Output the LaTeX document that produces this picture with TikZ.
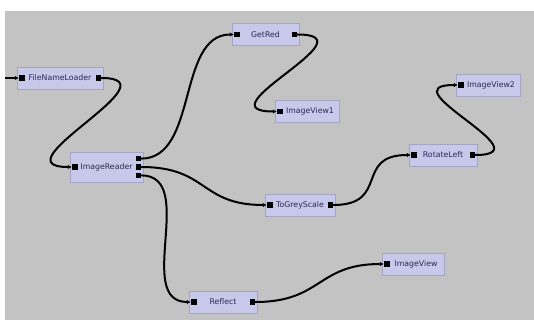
\documentclass[tikz,border=0pt]{standalone}
\usepackage{fontspec}
\setsansfont{DejaVu Sans}
\usepackage{tikz}
\usetikzlibrary{positioning,arrows.meta}
\definecolor{canvasgrey}{HTML}{C3C3C3}
\definecolor{boxfill}{HTML}{C8C8EA}
\definecolor{boxedge}{HTML}{A4A4C4}
\definecolor{boxtext}{HTML}{2A2A52}

\begin{document}
\begin{tikzpicture} [x=1pt, y=-1pt,
          filter/.style={draw=boxedge, fill=boxfill, minimum height=22pt,
            inner sep=0, text=boxtext, font=\sffamily\fontsize{7.8}{9}\selectfont},
          port/.style={fill=black, minimum size=5.5pt, inner sep=0},
          pipe/.style={line width=2pt, -{Latex[length=4pt,width=4.5pt]}}]
  \useasboundingbox (0,0) rectangle (534,320);
  \fill[white] (0,0) rectangle (534,320);
  \fill[canvasgrey] (5,11) rectangle (534,320);
  % filters
  \node[filter, minimum width=86pt] (loader) at (60,78) {FileNameLoader};
  \node[filter, minimum width=73pt, minimum height=30pt] (reader) at (106.5,167) {ImageReader};
  \node[filter, minimum width=67pt] (getred) at (265.5,34.5) {GetRed};
  \node[filter, minimum width=64pt] (view1) at (307,111.5) {\hspace{6pt}ImageView1};
  \node[filter, minimum width=70pt] (grey) at (300,205) {ToGreyScale};
  \node[filter, minimum width=68pt] (rotate) at (443,155) {RotateLeft};
  \node[filter, minimum width=64pt] (view2) at (488,85) {\hspace{6pt}ImageView2};
  \node[filter, minimum width=68pt] (reflect) at (223,302) {Reflect};
  \node[filter, minimum width=62pt] (view) at (413,264) {\hspace{6pt}ImageView};
  % ports
  \node[port, right=2pt of loader.west] (loader-in) {};
  \node[port, left=2pt of loader.east] (loader-out) {};
  \node[port, right=2pt of reader.west] (reader-in) {};
  \node[port, left=2pt of reader.east] (reader-out2) {};
  \node[port, above=2.5pt of reader-out2] (reader-out1) {};
  \node[port, below=2.5pt of reader-out2] (reader-out3) {};
  \node[port, right=2pt of getred.west] (getred-in) {};
  \node[port, left=2pt of getred.east] (getred-out) {};
  \node[port, right=2pt of view1.west] (view1-in) {};
  \node[port, right=2pt of grey.west] (grey-in) {};
  \node[port, left=2pt of grey.east] (grey-out) {};
  \node[port, right=2pt of rotate.west] (rotate-in) {};
  \node[port, left=2pt of rotate.east] (rotate-out) {};
  \node[port, right=2pt of view2.west] (view2-in) {};
  \node[port, right=2pt of reflect.west] (reflect-in) {};
  \node[port, left=2pt of reflect.east] (reflect-out) {};
  \node[port, right=2pt of view.west] (view-in) {};
  % pipes
  \coordinate (source) at (5,78);
  \draw[pipe] (source) -- (loader-in);
  \draw[pipe] (loader-out) .. controls +(80,0) and +(-80,0) .. (reader-in);
  \draw[pipe] (reader-out1) .. controls +(60,0) and +(-60,0) .. (getred-in);
  \draw[pipe] (getred-out) .. controls +(80,0) and +(-80,0) .. (view1-in);
  \draw[pipe] (reader-out2) .. controls +(70,0) and +(-70,0) .. (grey-in);
  \draw[pipe] (reader-out3) .. controls +(60,0) and +(-60,0) .. (reflect-in);
  \draw[pipe] (grey-out) .. controls +(60,0) and +(-60,0) .. (rotate-in);
  \draw[pipe] (rotate-out) .. controls +(75,0) and +(-75,0) .. (view2-in);
  \draw[pipe] (reflect-out) .. controls +(70,0) and +(-70,0) .. (view-in);
\end{tikzpicture}
\end{document}
